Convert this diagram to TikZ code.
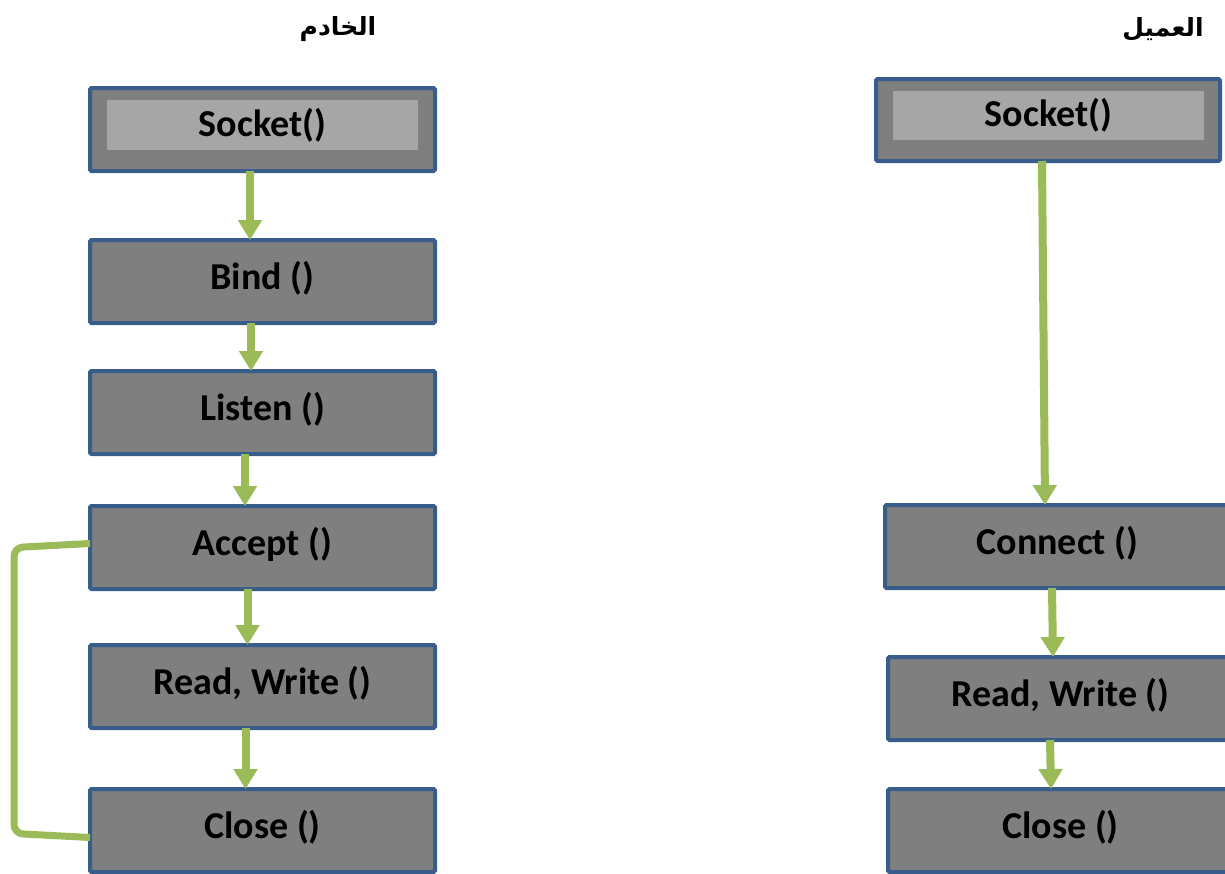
\documentclass[tikz,border=0pt]{standalone}
\usepackage{fontspec}
\setmainfont{Carlito}
\newfontfamily\arabicfont[Script=Arabic]{DejaVu Sans}
\TeXXeTstate=1
\usetikzlibrary{arrows.meta}
\definecolor{boxfill}{HTML}{7F7F7F}
\definecolor{boxline}{HTML}{385D8A}
\definecolor{innerfill}{HTML}{A6A6A6}
\definecolor{flowgreen}{HTML}{9BBB59}
% raise a box label slightly above the box centre
\newcommand{\liftlabel}[1]{\raisebox{3pt}[\height][\depth]{#1}}
\tikzset{
  stepbox/.style={draw=boxline, fill=boxfill, line width=4pt, rounded corners=1.5pt,
    minimum width=345pt, minimum height=83pt, inner sep=0pt, outer sep=0pt,
    font=\fontsize{38}{44}\selectfont\bfseries},
  innerbox/.style={fill=innerfill, minimum width=311pt, minimum height=50pt,
    inner sep=0pt, outer sep=0pt, font=\fontsize{38}{44}\selectfont\bfseries},
  flow/.style={draw=flowgreen, line width=8pt,
    -{Triangle[width=23pt,length=20pt]}},
  loopline/.style={draw=flowgreen, line width=7pt, rounded corners=9pt},
  heading/.style={font=\arabicfont\bfseries\fontsize{25}{30}\selectfont, inner sep=0pt}
}
\begin{document}
\begin{tikzpicture}[x=1pt,y=-1pt]
\useasboundingbox (0,0) rectangle (1225,873);
\clip (0,0) rectangle (1225,873);

% headings
\node[heading] (srvtitle) at (338,29) {\beginR الخادم\endR};
\node[heading] (clttitle) at (1163,29) {\beginR العميل\endR};

% server column
\node[stepbox] (ssock) at (262.5,129.5) {};
\node[innerbox] (ssockin) at (262.5,125) {Socket()};
\node[stepbox] (sbind) at (262.5,281.5) {\liftlabel{Bind ()}};
\node[stepbox] (slisten) at (262.5,412.5) {\liftlabel{Listen ()}};
\node[stepbox] (saccept) at (262.5,547.5) {\liftlabel{Accept ()}};
\node[stepbox] (srw) at (262.5,686.5) {\liftlabel{Read, Write ()}};
\node[stepbox] (sclose) at (262.5,830.5) {\liftlabel{Close ()}};

% client column
\node[stepbox, minimum width=344pt, minimum height=82pt] (csock) at (1048,120) {};
\node[innerbox, minimum height=49pt] (csockin) at (1048.5,115.5) {Socket()};
\node[stepbox] (cconnect) at (1057.5,546.5) {\liftlabel{Connect ()}};
\node[stepbox] (crw) at (1060.5,698.5) {\liftlabel{Read, Write ()}};
\node[stepbox] (cclose) at (1060.5,830.5) {\liftlabel{Close ()}};

% server flow
\draw[flow] ([xshift=-12.5pt]ssock.south) -- ([xshift=-12.5pt]sbind.north);
\draw[flow] ([xshift=-11.5pt]sbind.south) -- ([xshift=-11.5pt]slisten.north);
\draw[flow] ([xshift=-17.5pt]slisten.south) -- ([xshift=-17.5pt]saccept.north);
\draw[flow] ([xshift=-15pt]saccept.south) -- ([xshift=-15pt]srw.north);
\draw[flow] ([xshift=-17pt]srw.south) -- ([xshift=-17pt]sclose.north);

% loop back from Close to Accept
\coordinate (loopx) at (14,0);
\draw[loopline] ([yshift=4pt]saccept.west) -- ([yshift=0pt]saccept.west -| loopx)
  -- ([yshift=-3pt]sclose.west -| loopx) -- ([yshift=-7pt]sclose.west);

% client flow
\draw[flow] ([xshift=-6pt]csock.south) -- ([xshift=-12.5pt]cconnect.north);
\draw[flow] ([xshift=-5.5pt]cconnect.south) -- ([xshift=-7.5pt]crw.north);
\draw[flow] ([xshift=-10.5pt]crw.south) -- ([xshift=-9.5pt]cclose.north);
\end{tikzpicture}
\end{document}
